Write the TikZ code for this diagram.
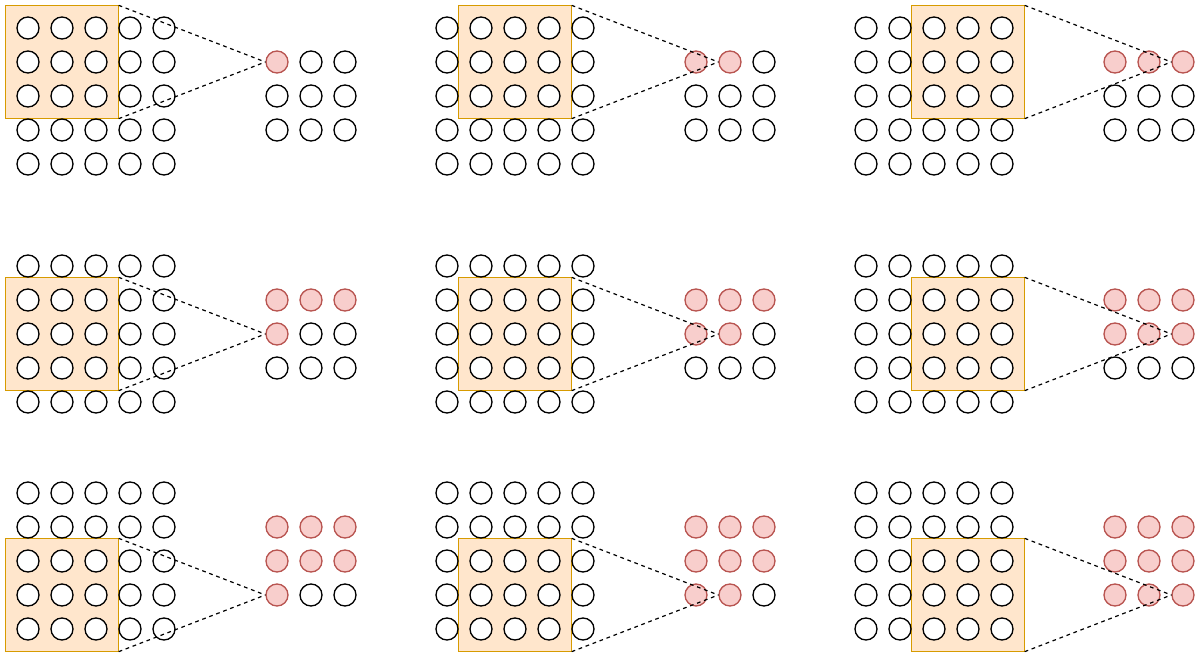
\documentclass[tikz,border=0pt]{standalone}
\definecolor{winfill}{HTML}{FFE6CC}
\definecolor{windraw}{HTML}{D79B00}
\definecolor{redfill}{HTML}{F8CECC}
\definecolor{reddraw}{HTML}{B85450}
\begin{document}
\begin{tikzpicture}[x=0.75pt,y=-0.75pt,
 cell/.style={circle,draw=black,fill=white,line width=1pt,minimum size=16.5pt,inner sep=0pt},
 done/.style={cell,draw=reddraw,fill=redfill},
 win/.style={rectangle,draw=windraw,fill=winfill,line width=1pt,minimum width=85pt,minimum height=85pt,inner sep=0pt,outer sep=0pt},
 link/.style={draw=black,line width=0.9pt,dash pattern=on 2.8pt off 2.8pt}]
\useasboundingbox (0,0) rectangle (1200,657);
\foreach \k in {0,...,8} {
  \pgfmathtruncatemacro{\pr}{div(\k,3)}
  \pgfmathtruncatemacro{\pc}{mod(\k,3)}
  \pgfmathsetmacro{\ox}{28+419*\pc}
  \pgfmathsetmacro{\oy}{\pr==0 ? 28 : (\pr==1 ? 266 : 493)}
  \node[win] (win-\k) at (\ox+34*\pc+34, \oy+34*\pr+34) {};
  \foreach \r in {0,...,4} {
    \foreach \c in {0,...,4} {
      \node[cell] (in-\k-\r-\c) at (\ox+34*\c, \oy+34*\r) {};
    }
  }
  \foreach \r in {0,...,2} {
    \foreach \c in {0,...,2} {
      \pgfmathtruncatemacro{\m}{3*\r+\c}
      \ifnum\m>\k \def\st{cell}\else\def\st{done}\fi
      \node[\st] (out-\k-\r-\c) at (\ox+249+34*\c, \oy+34+34*\r) {};
    }
  }
  \draw[link] (win-\k.north east) -- (out-\k-\pr-\pc.west);
  \draw[link] (win-\k.south east) -- (out-\k-\pr-\pc.west);
}
\end{tikzpicture}
\end{document}
